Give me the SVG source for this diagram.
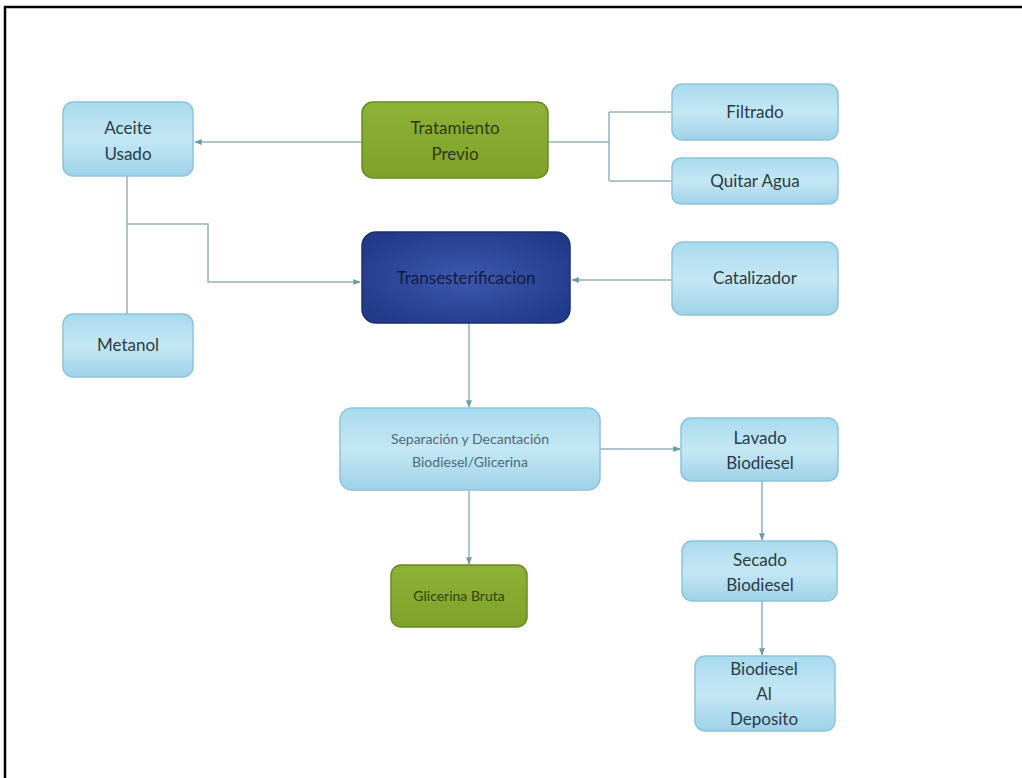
<svg xmlns="http://www.w3.org/2000/svg" width="1022" height="778" viewBox="0 0 1022 778">
<defs>
<linearGradient id="gBlue" x1="0" y1="0" x2="0" y2="1">
<stop offset="0" stop-color="#a9daee"/>
<stop offset="0.5" stop-color="#c4e7f4"/>
<stop offset="1" stop-color="#9fd2e8"/>
</linearGradient>
<linearGradient id="gGreen" x1="0" y1="0" x2="0" y2="1">
<stop offset="0" stop-color="#8db236"/>
<stop offset="1" stop-color="#7fa12a"/>
</linearGradient>
<radialGradient id="gNavy" cx="0.5" cy="0.5" r="0.6">
<stop offset="0" stop-color="#3d58ad"/>
<stop offset="1" stop-color="#223a8a"/>
</radialGradient>
<marker id="arr" viewBox="0 0 10 10" refX="9" refY="5" markerWidth="5" markerHeight="5" orient="auto">
<path d="M0,1 L10,5 L0,9 z" fill="#6f9aa6"/>
</marker>
</defs>
<style>
.blue{fill:url(#gBlue);stroke:#8cc3da;stroke-width:1.5}
.green{fill:url(#gGreen);stroke:#6a8a22;stroke-width:1.5}
.navy{fill:url(#gNavy);stroke:#1b2e70;stroke-width:1.5}
.t{font-family:"Lato","Liberation Sans",sans-serif;font-size:17px;fill:#2b3c47;text-anchor:middle}
.ts{font-family:"Lato","Liberation Sans",sans-serif;font-size:14px;fill:#4d6b76;text-anchor:middle}
.c{fill:none;stroke:#93b3ba;stroke-width:1.5}
.ca{fill:none;stroke:#93b3ba;stroke-width:1.5;marker-end:url(#arr)}
</style>
<rect width="1022" height="778" fill="#ffffff"/>
<path d="M5,778 L5,7 L1022,7" fill="none" stroke="#000" stroke-width="2.5"/>
<g id="connectors">
<path class="ca" d="M362,142 L195,142"/>
<path class="c" d="M548,142 L609,142 M609,112 L609,181 M609,112 L672,112 M609,181 L672,181"/>
<path class="c" d="M127,176 L127,314"/>
<path class="ca" d="M127,224 L208,224 L208,282 L360,282"/>
<path class="ca" d="M672,280 L572,280"/>
<path class="ca" d="M469,323 L469,407"/>
<path class="ca" d="M600,449 L680,449"/>
<path class="ca" d="M469,490 L469,564"/>
<path class="ca" d="M762,481 L762,540"/>
<path class="ca" d="M762,601 L762,655"/>
</g>
<g id="aceite">
<rect class="blue" x="63" y="102" width="130" height="74" rx="10"/>
<text class="t" x="128" y="134">Aceite</text>
<text class="t" x="128" y="160">Usado</text>
</g>
<g id="tratamiento">
<rect class="green" x="362" y="102" width="186" height="76" rx="11"/>
<text class="t" x="455" y="134" fill="#2c3a0e" style="fill:#2c3a10">Tratamiento</text>
<text class="t" x="455" y="160" style="fill:#2c3a10">Previo</text>
</g>
<g id="filtrado">
<rect class="blue" x="672" y="84" width="166" height="56" rx="10"/>
<text class="t" x="755" y="118">Filtrado</text>
</g>
<g id="quitar">
<rect class="blue" x="672" y="158" width="166" height="46" rx="9"/>
<text class="t" x="755" y="187">Quitar Agua</text>
</g>
<g id="trans">
<rect class="navy" x="362" y="232" width="208" height="91" rx="14"/>
<text class="t" x="466" y="284" style="fill:#131c42">Transesterificacion</text>
</g>
<g id="catalizador">
<rect class="blue" x="672" y="242" width="166" height="73" rx="11"/>
<text class="t" x="755" y="284">Catalizador</text>
</g>
<g id="metanol">
<rect class="blue" x="63" y="314" width="130" height="63" rx="10"/>
<text class="t" x="128" y="351">Metanol</text>
</g>
<g id="separacion">
<rect class="blue" x="340" y="408" width="260" height="82" rx="12"/>
<text class="ts" x="470" y="444">Separación y Decantación</text>
<text class="ts" x="470" y="467">Biodiesel/Glicerina</text>
</g>
<g id="lavado">
<rect class="blue" x="681" y="418" width="157" height="63" rx="10"/>
<text class="t" x="760" y="444">Lavado</text>
<text class="t" x="760" y="469">Biodiesel</text>
</g>
<g id="glicerina">
<rect class="green" x="391" y="565" width="136" height="62" rx="10"/>
<text class="ts" x="459" y="601" style="fill:#34420f">Glicerina Bruta</text>
</g>
<g id="secado">
<rect class="blue" x="682" y="541" width="155" height="60" rx="10"/>
<text class="t" x="760" y="566">Secado</text>
<text class="t" x="760" y="591">Biodiesel</text>
</g>
<g id="deposito">
<rect class="blue" x="695" y="656" width="140" height="75" rx="10"/>
<text class="t" x="764" y="675">Biodiesel</text>
<text class="t" x="764" y="700">Al</text>
<text class="t" x="764" y="725">Deposito</text>
</g>
</svg>
